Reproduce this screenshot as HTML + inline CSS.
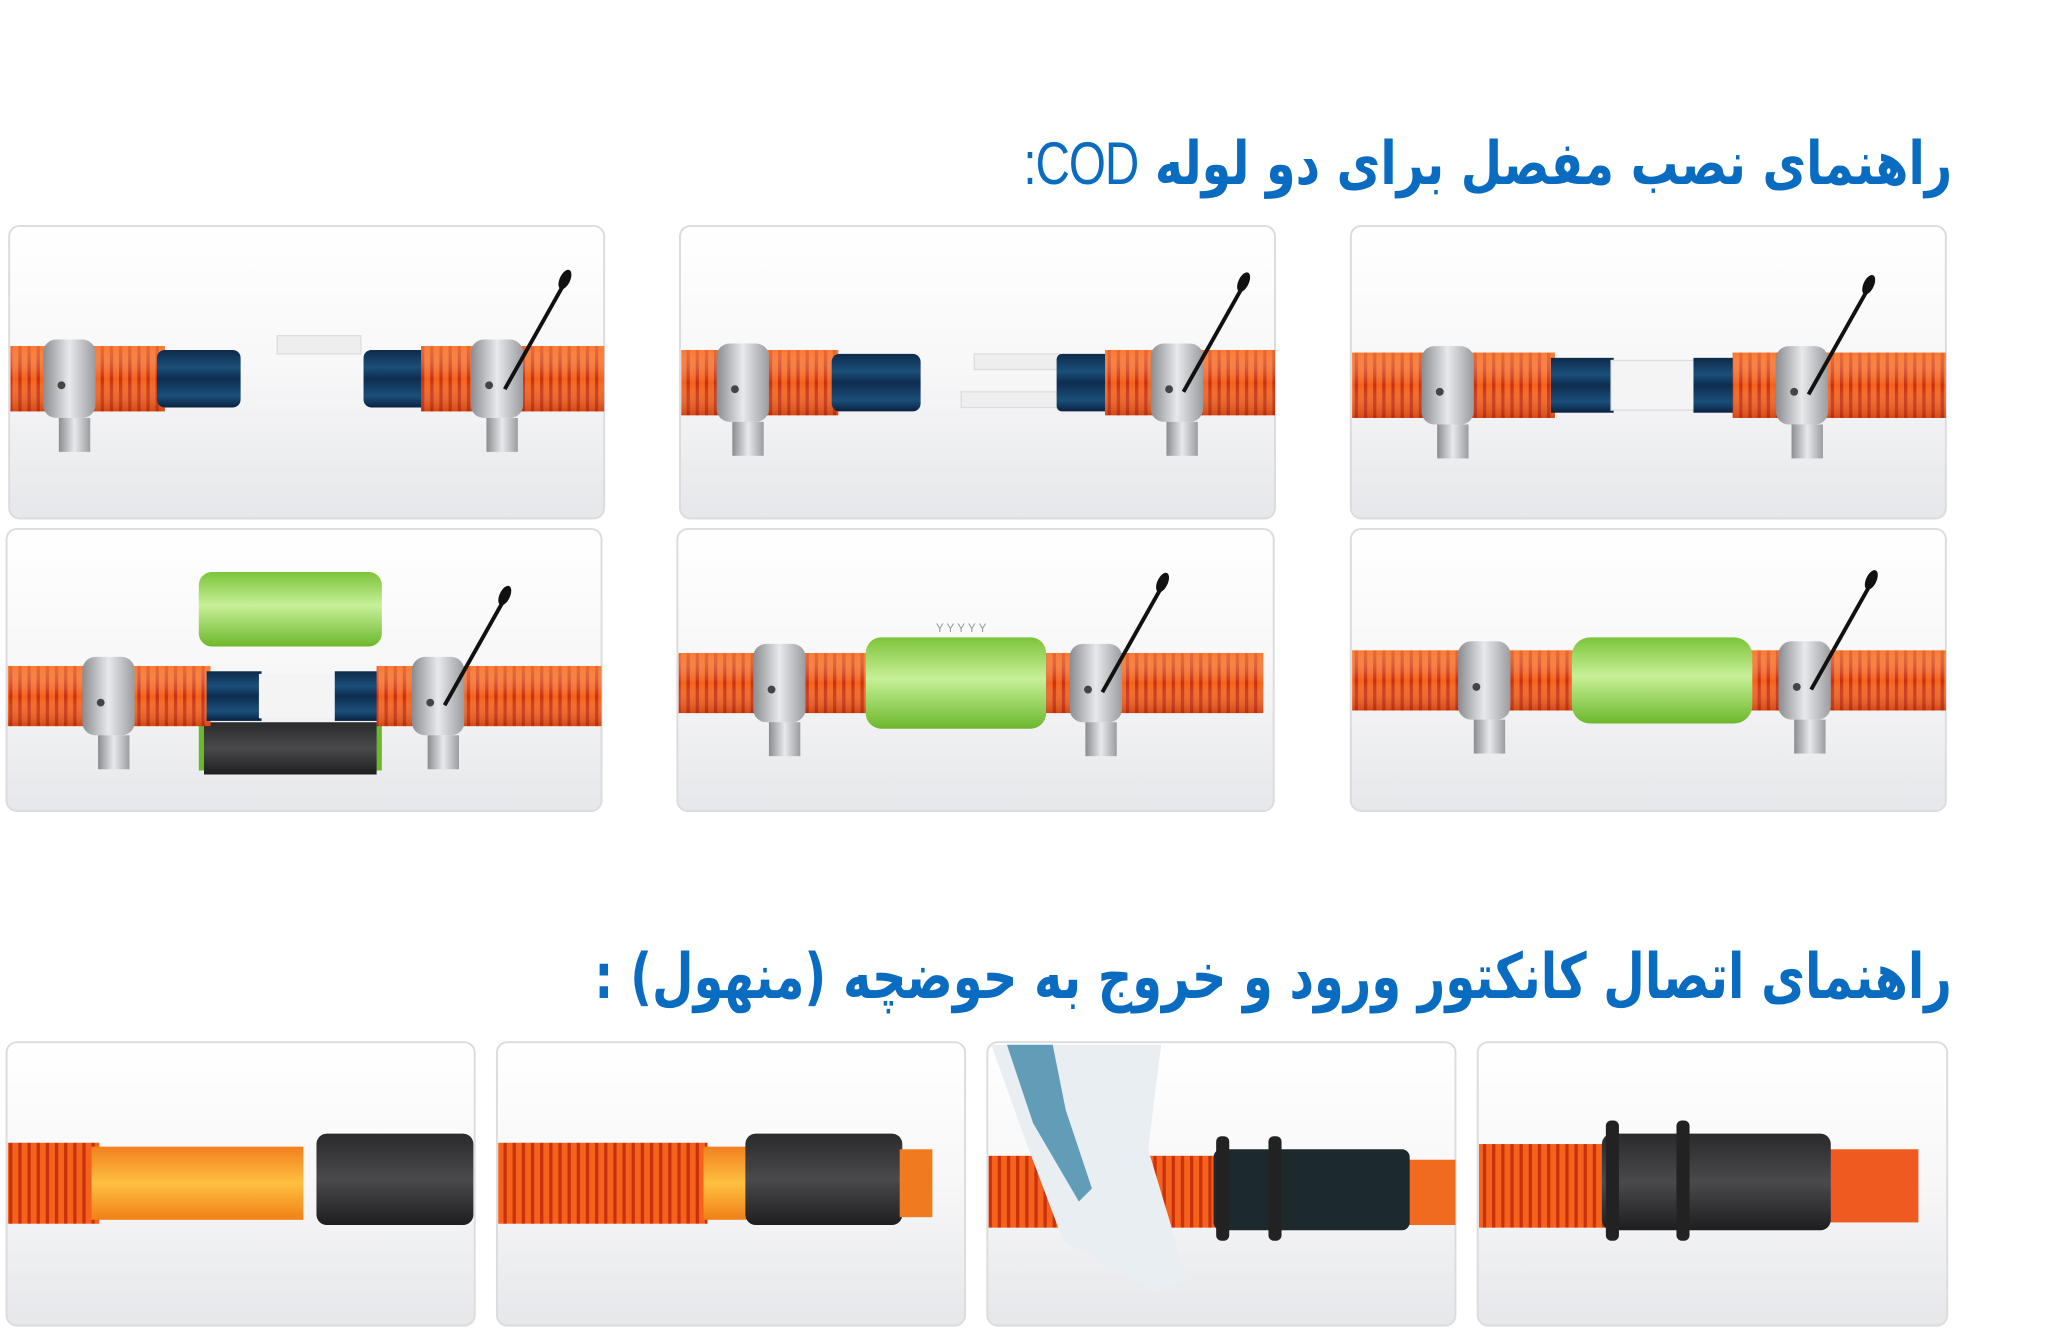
<!DOCTYPE html>
<html><head><meta charset="utf-8">
<style>
html,body{margin:0;padding:0;background:#fff;overflow:hidden;width:2050px;height:1332px}
#wrap{position:absolute;left:0;top:0;width:1550px;height:1020px;transform:scale(1.3077,1.306);transform-origin:0 0}
.t{position:absolute;right:57px;direction:rtl;text-align:right;white-space:nowrap;color:#0a6cc0;font-family:"DejaVu Sans","Liberation Sans",sans-serif;font-weight:bold;letter-spacing:-1px;transform-origin:right center}
svg{position:absolute;left:0;top:0}
</style></head><body>
<div id="wrap">
<div class="t" style="top:98px;font-size:46px;transform:scaleX(0.792)">راهنمای نصب مفصل برای دو لوله <span style="font-weight:normal;font-family:'Liberation Sans',sans-serif">COD:</span></div>
<div class="t" style="top:720px;font-size:48px;transform:scaleX(0.763)">راهنمای اتصال کانکتور ورود و خروج به حوضچه (منهول) :</div>
<svg width="1550" height="1020" viewBox="0 0 1550 1020">
<defs>
<linearGradient id="pg" x1="0" y1="0" x2="0" y2="1"><stop offset="0" stop-color="#fff"/><stop offset="0.5" stop-color="#f7f7f8"/><stop offset="1" stop-color="#e6e7ea"/></linearGradient>
<pattern id="cor" width="7" height="10" patternUnits="userSpaceOnUse"><rect width="7" height="10" fill="#f4621c"/><rect width="2.5" height="10" fill="#c8300e"/></pattern>
<linearGradient id="cg" x1="0" y1="0" x2="0" y2="1"><stop offset="0" stop-color="#ff8a40" stop-opacity=".6"/><stop offset=".5" stop-color="#fff" stop-opacity="0"/><stop offset="1" stop-color="#a02005" stop-opacity=".4"/></linearGradient>
<linearGradient id="bl" x1="0" y1="0" x2="0" y2="1"><stop offset="0" stop-color="#0d2a4a"/><stop offset=".3" stop-color="#1a4f7a"/><stop offset=".5" stop-color="#0e2d50"/><stop offset=".8" stop-color="#1a4f7a"/><stop offset="1" stop-color="#0a2240"/></linearGradient>
<linearGradient id="gr" x1="0" y1="0" x2="0" y2="1"><stop offset="0" stop-color="#7cc43a"/><stop offset=".45" stop-color="#c8f098"/><stop offset="1" stop-color="#6cb82c"/></linearGradient>
<linearGradient id="cl" x1="0" y1="0" x2="1" y2="0"><stop offset="0" stop-color="#8a8c90"/><stop offset=".5" stop-color="#e8e9ec"/><stop offset="1" stop-color="#9a9ca0"/></linearGradient>
<linearGradient id="bk" x1="0" y1="0" x2="0" y2="1"><stop offset="0" stop-color="#2a2a2c"/><stop offset=".5" stop-color="#4a4a4c"/><stop offset="1" stop-color="#1e1e20"/></linearGradient>
<linearGradient id="or" x1="0" y1="0" x2="0" y2="1"><stop offset="0" stop-color="#f28020"/><stop offset=".5" stop-color="#ffc040"/><stop offset="1" stop-color="#f08018"/></linearGradient>
<g id="clamp"><rect x="0" y="-30" width="40" height="60" rx="10" fill="url(#cl)"/><rect x="12" y="30" width="24" height="26" fill="url(#cl)"/><circle cx="14" cy="5" r="3" fill="#444"/></g>
<g id="rod"><line x1="0" y1="0" x2="45" y2="-80" stroke="#111" stroke-width="3"/><ellipse cx="46" cy="-84" rx="4" ry="8" fill="#111" transform="rotate(25 46 -84)"/></g>
</defs>
<g fill="url(#pg)" stroke="#dcdcdf" stroke-width="1.5">
<rect x="7" y="173" width="455" height="224" rx="8"/><rect x="520" y="173" width="455" height="224" rx="8"/><rect x="1033" y="173" width="455" height="224" rx="8"/>
<rect x="5" y="405" width="455" height="216" rx="8"/><rect x="518" y="405" width="456" height="216" rx="8"/><rect x="1033" y="405" width="455" height="216" rx="8"/>
<rect x="5" y="798" width="358" height="217" rx="8"/><rect x="380" y="798" width="358" height="217" rx="8"/><rect x="755" y="798" width="358" height="217" rx="8"/><rect x="1130" y="798" width="359" height="217" rx="8"/>
</g>
<rect x="8" y="265" width="118" height="50" fill="url(#cor)"/><rect x="8" y="265" width="118" height="50" fill="url(#cg)"/>
<rect x="120" y="268" width="64" height="44" rx="6" fill="url(#bl)"/>
<rect x="212" y="257" width="64" height="14" fill="#eee" stroke="#ddd"/>
<rect x="278" y="268" width="52" height="44" rx="6" fill="url(#bl)"/>
<rect x="322" y="265" width="140" height="50" fill="url(#cor)"/><rect x="322" y="265" width="140" height="50" fill="url(#cg)"/>
<use href="#clamp" x="33" y="290"/><use href="#clamp" x="360" y="290"/><use href="#rod" x="386" y="298"/>
<rect x="521" y="268" width="120" height="50" fill="url(#cor)"/><rect x="521" y="268" width="120" height="50" fill="url(#cg)"/>
<rect x="636" y="271" width="68" height="44" rx="6" fill="url(#bl)"/>
<rect x="745" y="271" width="65" height="12" fill="#eee" stroke="#ddd"/><rect x="735" y="300" width="75" height="12" fill="#eee" stroke="#ddd"/>
<rect x="808" y="271" width="45" height="44" rx="4" fill="url(#bl)"/>
<rect x="845" y="268" width="130" height="50" fill="url(#cor)"/><rect x="845" y="268" width="130" height="50" fill="url(#cg)"/>
<use href="#clamp" x="548" y="293"/><use href="#clamp" x="880" y="293"/><use href="#rod" x="905" y="300"/>
<rect x="1034" y="270" width="155" height="50" fill="url(#cor)"/><rect x="1034" y="270" width="155" height="50" fill="url(#cg)"/>
<rect x="1186" y="274" width="48" height="42" fill="url(#bl)"/><rect x="1232" y="276" width="65" height="38" fill="#f4f4f4" stroke="#ddd"/><rect x="1295" y="274" width="35" height="42" fill="url(#bl)"/>
<rect x="1325" y="270" width="163" height="50" fill="url(#cor)"/><rect x="1325" y="270" width="163" height="50" fill="url(#cg)"/>
<use href="#clamp" x="1087" y="295"/><use href="#clamp" x="1358" y="295"/><use href="#rod" x="1383" y="302"/>
<rect x="152" y="438" width="140" height="57" rx="10" fill="url(#gr)"/>
<path d="M152 555 h140 v35 h-140z" fill="#6cb82c"/><path d="M156 553 h132 v40 h-132z" fill="url(#bk)"/>
<rect x="6" y="510" width="155" height="46" fill="url(#cor)"/><rect x="6" y="510" width="155" height="46" fill="url(#cg)"/>
<rect x="158" y="514" width="42" height="38" fill="url(#bl)"/><rect x="198" y="516" width="60" height="34" fill="#f4f4f4"/><rect x="256" y="514" width="36" height="38" fill="url(#bl)"/>
<rect x="288" y="510" width="172" height="46" fill="url(#cor)"/><rect x="288" y="510" width="172" height="46" fill="url(#cg)"/>
<use href="#clamp" x="63" y="533"/><use href="#clamp" x="315" y="533"/><use href="#rod" x="340" y="540"/>
<rect x="519" y="500" width="150" height="46" fill="url(#cor)"/><rect x="519" y="500" width="150" height="46" fill="url(#cg)"/>
<rect x="800" y="500" width="166" height="46" fill="url(#cor)"/><rect x="800" y="500" width="166" height="46" fill="url(#cg)"/>
<rect x="662" y="488" width="138" height="70" rx="12" fill="url(#gr)"/>
<text x="735" y="484" font-size="9" fill="#999" text-anchor="middle" font-family="Liberation Sans">Y Y Y Y Y</text>
<use href="#clamp" x="576" y="523"/><use href="#clamp" x="818" y="523"/><use href="#rod" x="843" y="530"/>
<rect x="1034" y="498" width="175" height="46" fill="url(#cor)"/><rect x="1034" y="498" width="175" height="46" fill="url(#cg)"/>
<rect x="1335" y="498" width="153" height="46" fill="url(#cor)"/><rect x="1335" y="498" width="153" height="46" fill="url(#cg)"/>
<rect x="1202" y="488" width="138" height="66" rx="14" fill="url(#gr)"/>
<use href="#clamp" x="1115" y="521"/><use href="#clamp" x="1360" y="521"/><use href="#rod" x="1385" y="528"/>
<rect x="6" y="875" width="70" height="62" fill="url(#cor)"/><rect x="70" y="878" width="162" height="56" fill="url(#or)"/>
<rect x="242" y="868" width="120" height="70" rx="8" fill="url(#bk)"/>
<rect x="381" y="875" width="160" height="62" fill="url(#cor)"/><rect x="538" y="878" width="35" height="56" fill="url(#or)"/>
<rect x="570" y="868" width="120" height="70" rx="8" fill="url(#bk)"/><rect x="688" y="880" width="25" height="52" fill="#f07a20"/>
<rect x="756" y="885" width="175" height="55" fill="url(#cor)"/><rect x="1075" y="888" width="38" height="50" fill="#f06a20"/>
<rect x="928" y="880" width="150" height="62" rx="6" fill="#1c2a2e"/>
<rect x="930" y="870" width="10" height="80" rx="4" fill="#222"/><rect x="970" y="870" width="10" height="80" rx="4" fill="#222"/>
<path d="M758 800 h130 l-10 80 l30 100 l-25 10 l-70 -40 l-30 -80 z" fill="#e8eef2"/>
<path d="M770 800 l20 60 l35 60 l10 -10 l-20 -60 l-10 -50z" fill="#2a7aa0" opacity=".7"/>
<rect x="1131" y="876" width="100" height="64" fill="url(#cor)"/><rect x="1395" y="880" width="72" height="56" fill="#ee5a20"/>
<rect x="1225" y="868" width="175" height="74" rx="8" fill="url(#bk)"/>
<rect x="1228" y="858" width="10" height="92" rx="4" fill="#222"/><rect x="1282" y="858" width="10" height="92" rx="4" fill="#222"/>
</svg>
</div>
</body></html>
